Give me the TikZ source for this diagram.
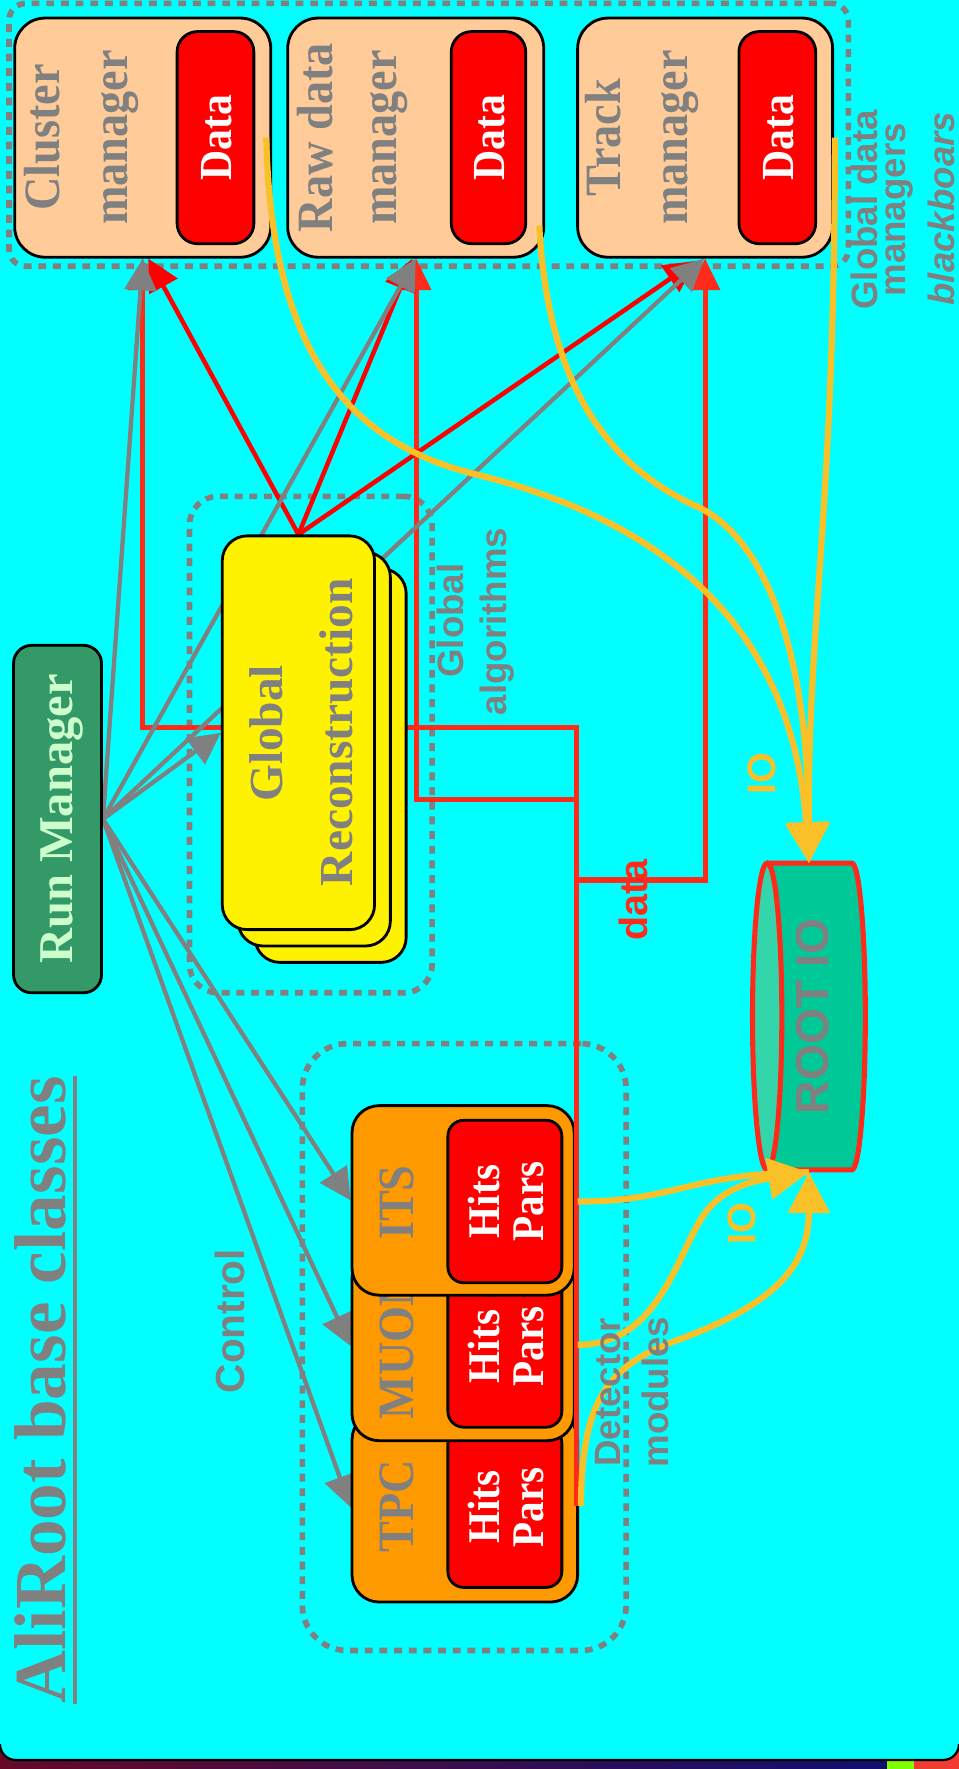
\documentclass[tikz,border=0pt]{standalone}
\usepackage{graphicx}
\usepackage{fontspec}
\setmainfont{Liberation Serif}
\setsansfont{Liberation Sans}
\usetikzlibrary{arrows.meta,calc}
\newcommand\tallt[1]{\scalebox{1}[1.1]{#1}}
\definecolor{bgcyan}{RGB}{0,255,255}
\definecolor{txtgray}{RGB}{128,128,128}
\definecolor{peach}{RGB}{255,204,153}
\definecolor{datared}{RGB}{255,0,0}
\definecolor{linered}{RGB}{255,42,26}
\definecolor{ioyellow}{RGB}{250,192,40}
\definecolor{rmgreen}{RGB}{51,153,102}
\definecolor{rmtext}{RGB}{204,255,204}
\definecolor{detorange}{RGB}{255,153,0}
\definecolor{rootbody}{RGB}{0,200,150}
\definecolor{rootcap}{RGB}{51,214,170}
\definecolor{stripA}{RGB}{100,10,40}
\definecolor{stripB}{RGB}{16,16,112}
\definecolor{stripG}{RGB}{128,255,0}
\definecolor{stripR}{RGB}{240,60,50}
\pgfdeclarelayer{bglayer}
\pgfdeclarelayer{linelayer}
\pgfsetlayers{bglayer,linelayer,main}
\begin{document}
\begin{tikzpicture}[x=1pt,y=-1pt,
  grp/.style={draw=txtgray, line width=5pt, dash pattern=on 7pt off 6pt, inner sep=0pt},
  mgrbox/.style={draw=black, line width=2.5pt, fill=peach, rounded corners=27pt, minimum width=227pt, minimum height=212pt, inner sep=0pt},
  databox/.style={draw=black, line width=2.5pt, fill=datared, rounded corners=18pt, minimum width=68pt, minimum height=188pt, inner sep=0pt},
  detbox/.style={draw=black, line width=2.5pt, fill=detorange, rounded corners=24pt, minimum width=197pt, minimum height=168pt, inner sep=0pt},
  hpbox/.style={draw=black, line width=2.5pt, fill=datared, rounded corners=14pt, minimum width=101pt, minimum height=143pt, inner sep=0pt},
  grbox/.style={draw=black, line width=2.5pt, fill=yellow, rounded corners=22pt, minimum width=135pt, minimum height=349pt, inner sep=0pt},
  rmbox/.style={draw=black, line width=2.5pt, fill=rmgreen, rounded corners=16pt, minimum width=78pt, minimum height=308pt, inner sep=0pt},
  sertxt/.style={rotate=90, inner sep=0pt, text=txtgray, font=\fontsize{41}{49}\selectfont\bfseries},
  whitetxt/.style={rotate=90, inner sep=0pt, text=white, font=\fontsize{37}{44}\selectfont\bfseries},
  hptxt/.style={rotate=90, inner sep=0pt, text=white, font=\fontsize{36.5}{44}\selectfont\bfseries},
  sanstxt/.style={rotate=90, inner sep=0pt, text=txtgray, font=\fontsize{32.5}{39}\selectfont\sffamily\bfseries},
  graylink/.style={draw=txtgray, line width=3.8pt, -{Triangle[length=28pt,width=28pt]}},
  redlink/.style={draw=datared, line width=4pt, -{Triangle[length=28pt,width=28pt]}},
  datalink/.style={draw=linered, line width=4.5pt, line join=miter, -{Triangle[length=28pt,width=26pt]}},
  dataline/.style={draw=linered, line width=4.5pt, line join=miter},
  iolink/.style={draw=ioyellow, line width=5.5pt, -{Triangle[length=36pt,width=36pt]}},
  ioline/.style={draw=ioyellow, line width=5.5pt},
]
\useasboundingbox (0,0) rectangle (850,1568);

% ---------- background ----------
\begin{pgfonlayer}{bglayer}
\shade[left color=stripA, right color=stripB] (0,1530) rectangle (786,1568);
\fill[stripG] (786,1530) rectangle (810,1568);
\fill[stripR] (810,1530) rectangle (850,1568);
\fill[bgcyan, rounded corners=14pt] (0,-30) rectangle (850,1560);
\draw[black, line width=2pt, rounded corners=14pt] (0,1546) -- (0,1560) -- (850,1560) -- (850,1546);
\node[grp, rounded corners=15pt, minimum width=744pt, minimum height=233pt] (gdm) at (380,119.5) {};
\node[grp, rounded corners=25pt, minimum width=215pt, minimum height=440pt] (galg) at (275.5,660) {};
\node[grp, rounded corners=40pt, minimum width=287pt, minimum height=538pt] (gdet) at (411.5,1194) {};
\end{pgfonlayer}

% ---------- data managers ----------
\node[mgrbox] (cm) at (126.5,122) {};
\node[databox] (cmd) at (191,122) {};
\node[sertxt] (cmt1) at (37,122) {\tallt{Cluster}};
\node[sertxt] (cmt2) at (106,122) {\tallt{manager}};
\node[whitetxt] (cmt3) at (192,122) {\tallt{Data}};

\node[mgrbox] (rw) at (368.5,122) {};
\node[databox, minimum width=66pt] (rwd) at (433,122) {};
\node[sertxt] (rwt1) at (279,122) {\tallt{Raw data}};
\node[sertxt] (rwt2) at (345,122) {\tallt{manager}};
\node[whitetxt] (rwt3) at (434,122) {\tallt{Data}};

\node[mgrbox, minimum width=226pt] (tk) at (625,122) {};
\node[databox] (tkd) at (689,122) {};
\node[sertxt] (tkt1) at (535,122) {\tallt{Track}};
\node[sertxt] (tkt2) at (603,122) {\tallt{manager}};
\node[whitetxt] (tkt3) at (690,122) {\tallt{Data}};

% ---------- run manager ----------
\node[rmbox] (rm) at (51,726) {};
\node[sertxt, text=rmtext, font=\fontsize{43}{50}\selectfont\bfseries] (rmt) at (55,726) {Run Manager};

% ---------- global reconstruction ----------
\node[grbox, minimum width=134pt] (gr3) at (293,678.5) {};
\node[grbox] (gr2) at (278.5,664) {};
\node[grbox] (gr1) at (264.5,649.5) {};
\node[sertxt, font=\fontsize{42}{50}\selectfont\bfseries] (grt1) at (236,650) {Global};
\node[sertxt, font=\fontsize{42}{50}\selectfont\bfseries] (grt2) at (298,649) {Reconstruction};

% ---------- detector modules ----------
\node[detbox, minimum width=200pt] (tpc) at (412,1336) {};
\node[hpbox, minimum height=142pt] (tpcd) at (447.5,1336) {};
\node[sertxt] (tpct) at (352,1335) {\tallt{TPC}};
\node[hptxt] (tpch) at (429,1336) {\tallt{Hits}};
\node[hptxt] (tpcp) at (469,1336) {\tallt{Pars}};

\node[detbox] (muon) at (410.5,1193) {};
\node[hpbox] (muond) at (447.5,1193.5) {};
\node[sertxt] (muont) at (352,1193) {\tallt{MUON}};
\node[hptxt] (muonh) at (429,1193.5) {\tallt{Hits}};
\node[hptxt] (muonp) at (469,1193.5) {\tallt{Pars}};

\node[detbox] (its) at (410.5,1064) {};
\node[hpbox, minimum height=144pt] (itsd) at (447.5,1065) {};
\node[sertxt] (itst) at (352,1066) {\tallt{ITS}};
\node[hptxt] (itsh) at (429,1065) {\tallt{Hits}};
\node[hptxt] (itsp) at (469,1065) {\tallt{Pars}};

% ---------- ROOT IO cylinder ----------
\fill[rootbody] (680,765) -- (755,765) arc[start angle=90, end angle=-90, x radius=12pt, y radius=136pt] -- (680,1037) -- cycle;
\draw[linered, line width=4.5pt, line join=round] (680,765) -- (755,765) arc[start angle=90, end angle=-90, x radius=12pt, y radius=136pt] -- (680,1037);
\filldraw[fill=rootcap, draw=linered, line width=4.5pt] (680,901) ellipse [x radius=13pt, y radius=136pt];
\node[sanstxt, font=\fontsize{41}{48}\selectfont\sffamily\bfseries] (root) at (720,901) {ROOT IO};
\coordinate (rootT) at (717,765);
\coordinate (rootB) at (717,1039);

% ---------- connectors behind boxes ----------
\coordinate (trunkB) at (511,1335);
\coordinate (trunkA) at (511,645);
\coordinate (trunkR) at (511,709);
\coordinate (trunkT) at (511,780);
\begin{pgfonlayer}{linelayer}
\draw[datalink] (trunkB) -- (trunkA) -- (cm.south |- trunkA) -- (cm.south);
\draw[datalink] (trunkR) -- ($(rw.south |- trunkR)+(0.5,0)$) -- ($(rw.south)+(0.5,0)$);
\draw[datalink] (trunkT) -- (tk.south |- trunkT) -- (tk.south);
\draw[redlink] (gr1.north) -- ($(cm.south)+(5,0)$);
\draw[redlink] (gr1.north) -- ($(rw.south)+(-3,0)$);
\draw[redlink] (gr1.north) -- ($(tk.south)+(-8,2)$);
\draw[graylink] (rm.east) -- (cm.south);
\draw[graylink] (rm.east) -- (rw.south);
\draw[graylink] (rm.east) -- ($(tk.south)+(-1,0)$);
\draw[graylink] (rm.east) -- (gr1.west);
\draw[graylink] (rm.east) -- (its.west);
\draw[graylink] (rm.east) -- (muon.west);
\draw[graylink] (rm.east) -- (tpc.west);
\end{pgfonlayer}
% red trunk over detector box edges
\draw[dataline] (trunkB) -- (trunkA);

% ---------- IO curves ----------
\coordinate (cmIO) at (236,122);
\coordinate (rwIO) at (478,200);
\coordinate (tkIO) at (740,122);
\draw[iolink] (cmIO) .. controls (240,300) and (300,390) .. (420,420) .. controls (540,450) and (700,520) .. (rootT);
\draw[iolink] (rwIO) .. controls (485,330) and (530,410) .. (620,450) .. controls (680,480) and (716,580) .. (rootT);
\draw[iolink] (tkIO) .. controls (740,450) and (716,550) .. (rootT);

\coordinate (itsIO) at (512,1065);
\coordinate (muonIO) at (512,1192);
\coordinate (tpcIO) at (515,1335);
\draw[ioline] (itsIO) .. controls (600,1065) and (610,1040) .. (rootB);
\draw[iolink] (muonIO) .. controls (585,1192) and (600,1110) .. (625,1075) .. controls (645,1048) and (680,1045) .. (rootB);
\draw[iolink] (tpcIO) .. controls (515,1240) and (540,1210) .. (600,1188) .. controls (690,1155) and (717,1120) .. (rootB);

% ---------- labels ----------
\node[rotate=90, anchor=base, inner sep=0pt, text=txtgray, font=\fontsize{65}{72}\selectfont\bfseries] (title) at (58,1232) {AliRoot base classes};
\draw[txtgray, line width=3.5pt] ($(title.south west)+(7.5,0)$) -- ($(title.south east)+(7.5,0)$);

\node[sanstxt] (lgd1) at (766,186) {Global data};
\node[sanstxt] (lgd2) at (797,186) {managers};
\node[sanstxt, font=\fontsize{32.5}{39}\selectfont\sffamily\bfseries\itshape] (lgd3) at (834,185) {blackboars};

\node[sanstxt] (lga1) at (399,550) {Global};
\node[sanstxt] (lga2) at (441,551) {algorithms};

\node[sanstxt] (ldm1) at (539,1234) {Detector};
\node[sanstxt] (ldm2) at (581,1234) {modules};

\node[sanstxt, font=\fontsize{36}{43}\selectfont\sffamily\bfseries] (lctl) at (204,1171) {Control};

\node[sanstxt, text=linered, font=\fontsize{35}{42}\selectfont\sffamily\bfseries] (ldata) at (561,798) {data};
\node[sanstxt, text=ioyellow, font=\fontsize{35}{42}\selectfont\sffamily\bfseries] (lio1) at (675,686) {IO};
\node[sanstxt, text=ioyellow, font=\fontsize{35}{42}\selectfont\sffamily\bfseries] (lio2) at (658,1085) {IO};
\end{tikzpicture}
\end{document}
